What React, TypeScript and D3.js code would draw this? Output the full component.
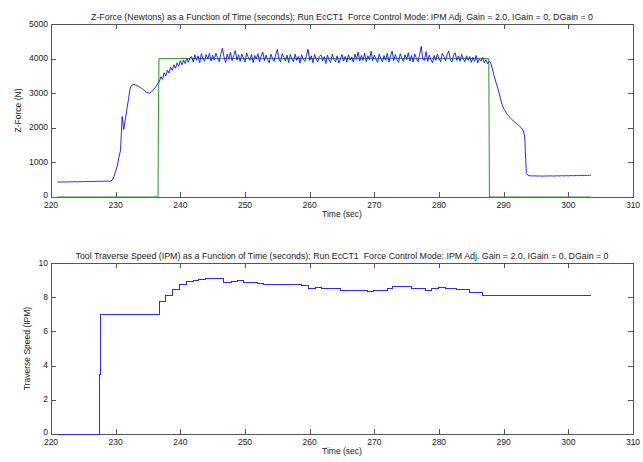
import React from "react";
import * as d3 from "d3";

// ---------- DATA ----------
const xTicks = [220, 230, 240, 250, 260, 270, 280, 290, 300, 310];
const forceTicks = [0, 1000, 2000, 3000, 4000, 5000];
const speedTicks = [0, 2, 4, 6, 8, 10];

const topTitle =
  "Z-Force (Newtons) as a Function of Time (seconds); Run EcCT1  Force Control Mode: IPM Adj. Gain = 2.0, IGain = 0, DGain = 0";
const bottomTitle =
  "Tool Traverse Speed (IPM) as a Function of Time (seconds); Run EcCT1  Force Control Mode: IPM Adj. Gain = 2.0, IGain = 0, DGain = 0";

// measured Z-force, sampled every 0.25 s starting at 221 s
const forceStart = 221;
const forceStep = 0.25;
const forceValues = [
  // 221.00 - 229.25
  430, 435, 428, 440, 432, 436, 438, 434, 442, 437,
  440, 445, 438, 444, 440, 446, 442, 448, 444, 450,
  446, 452, 448, 450, 455, 450, 452, 456, 452, 458,
  455, 460, 456, 462,
  // 229.50 - 236.50
  490, 600, 740, 900, 1150, 1350, 2330, 1950, 2250, 2550,
  2850, 3150, 3230, 3250, 3240, 3220, 3200, 3170, 3140, 3110,
  3070, 3030, 3010, 3000, 3030, 3080, 3130, 3200, 3280,
  // 236.75 - 241.50
  3330, 3480, 3400, 3590, 3500, 3670, 3580, 3750, 3660, 3820,
  3720, 3880, 3780, 3940, 3820, 3960, 3860, 4010, 3890, 4020,
  // 241.75 - 287.75
  4060, 3900, 4110, 3950, 4080, 3880, 4140, 3990, 3920, 4120,
  3990, 4150, 3930, 4100, 3960, 4160, 4030, 3910, 4120, 4300,
  4050, 3890, 4130, 3980, 4180, 3940, 4090, 4230, 3960, 4110,
  3920, 4130, 4020, 3900, 4160, 4040, 3950, 4120, 3890, 4090,
  3990, 4140, 3910, 4070, 4190, 3940, 4100, 3970, 3880, 4130,
  4010, 3920, 4110, 4260, 3990, 3900, 4140, 4040, 3930, 4100,
  3890, 4120, 3990, 3910, 4130, 3950, 4060, 3870, 4110, 3980,
  3920, 4090, 4270, 3950, 4080, 3880, 4120, 3990, 3900, 4060,
  4110, 3930, 4060, 3860, 4100, 3960, 3890, 4130, 3980, 3910,
  4080, 3870, 3990, 4120, 3930, 4060, 3900, 4110, 3960, 4050,
  3900, 4130, 3980, 4190, 3930, 4090, 3950, 4160, 3910, 4080,
  3970, 4210, 3940, 4100, 3990, 3890, 4130, 4000, 3910, 4090,
  3950, 4150, 3900, 4080, 4220, 3940, 4120, 3980, 3890, 4140,
  4020, 3920, 4110, 3970, 4170, 3930, 4090, 3900, 4130, 4010,
  3910, 4120, 4350, 3980, 3950, 4200, 3920, 4100, 3970, 3880,
  4090, 3950, 4130, 4000, 3910, 4150, 4060, 3940, 4110, 4220,
  3980, 3900, 4100, 4170, 3950, 4080, 3920, 4120, 3990, 3910,
  4080, 3950, 4060, 3890, 4040, 3920, 4090, 3880, 3990, 3930,
  4030, 3880, 3970, 3850, 3920,
  // 288.00 - 293.25
  3880, 3700, 3520, 3350, 3200, 3030, 2850, 2680, 2560, 2480,
  2400, 2350, 2290, 2240, 2200, 2160, 2120, 2080, 2040, 2000,
  1930, 1760,
  // 293.50 - 303.50
  680, 630, 615, 611, 606, 612, 608, 604, 610, 606,
  602, 608, 604, 610, 606, 612, 608, 604, 610, 614,
  608, 612, 616, 610, 614, 618, 612, 616, 620, 614,
  618, 622, 616, 620, 624, 618, 622, 626, 620, 630,
  625,
];

// commanded force (step)
const cmdTimes = [221, 236.55, 236.6, 236.7, 287.7, 287.75, 287.8, 303.5];
const cmdValues = [0, 0, 2000, 4000, 4000, 2000, 0, 0];

// traverse speed (step changes)
const speedTimes = [
  221, 227.4, 227.5, 236.75, 237.7, 238.75, 239.8, 240.8, 241.9, 242.8,
  243.8, 245.1, 246.6, 247.8, 248.8, 249.7, 251.8, 252.8, 258.7, 259.8,
  260.8, 261.8, 264.7, 268.8, 269.8, 271.9, 272.8, 275.7, 277.8, 278.8,
  279.9, 280.9, 282.7, 284.6, 286.7, 303.3,
];
const speedValues = [
  0, 3.5, 7.0, 7.8, 8.15, 8.5, 8.8, 8.97, 9.0, 9.08,
  9.12, 9.15, 8.87, 8.93, 8.98, 8.88, 8.83, 8.77, 8.72, 8.52,
  8.6, 8.55, 8.45, 8.35, 8.42, 8.52, 8.68, 8.55, 8.45, 8.55,
  8.6, 8.55, 8.48, 8.28, 8.12, 8.12,
];

// ---------- LAYOUT ----------
const W = 643;
const H = 462;
const X0 = 51;
const X1 = 633;
const TOP = { y0: 24, y1: 197 };
const BOT = { y0: 263, y1: 434 };
const FONT = "'Liberation Sans', Arial, Helvetica, sans-serif";
const NARROW = "'Liberation Sans Narrow', 'Liberation Sans', Arial, sans-serif";
const AXIS = "#555555";
const TXT = "#1a1a1a";
const TICK = 5;

const xScale = d3.scaleLinear().domain([220, 310]).range([X0, X1]);

type Pt = [number, number];

function Axes({
  y0,
  y1,
  yScale,
  yTicks,
  title,
  titleLen,
  ylabel,
  ylabelX,
}: {
  y0: number;
  y1: number;
  yScale: d3.ScaleLinear<number, number>;
  yTicks: number[];
  title: string;
  titleLen: number;
  ylabel: string;
  ylabelX: number;
}) {
  return (
    <g>
      <rect
        x={X0 + 0.5}
        y={y0 + 0.5}
        width={X1 - X0}
        height={y1 - y0}
        fill="none"
        stroke={AXIS}
        strokeWidth={1}
        shapeRendering="crispEdges"
      />
      {xTicks.map((t) => {
        const x = Math.round(xScale(t)) + 0.5;
        return (
          <g key={"x" + t}>
            <line x1={x} x2={x} y1={y1} y2={y1 - TICK} stroke={AXIS} shapeRendering="crispEdges" />
            <line x1={x} x2={x} y1={y0} y2={y0 + TICK} stroke={AXIS} shapeRendering="crispEdges" />
            <text
              x={xScale(t)}
              y={y1 + 10.5}
              fontSize={8.5}
              fontFamily={NARROW}
              fill={TXT}
              textAnchor="middle"
            >
              {t}
            </text>
          </g>
        );
      })}
      {yTicks.map((t, i) => {
        const y = Math.round(yScale(t)) + 0.5;
        return (
          <g key={"y" + t}>
            <line x1={X0} x2={X0 + TICK} y1={y} y2={y} stroke={AXIS} shapeRendering="crispEdges" />
            <line x1={X1} x2={X1 - TICK} y1={y} y2={y} stroke={AXIS} shapeRendering="crispEdges" />
            <text
              x={X0 - 3}
              y={yScale(t) + (i === 0 ? 1 : 2.5)}
              fontSize={8.5}
              fontFamily={NARROW}
              fill={TXT}
              textAnchor="end"
            >
              {t}
            </text>
          </g>
        );
      })}
      <text
        x={(X0 + X1) / 2 - titleLen / 2}
        y={y0 - 4}
        fontSize={9}
        fontFamily={FONT}
        fill={TXT}
        textLength={titleLen}
        lengthAdjust="spacingAndGlyphs"
        style={{ whiteSpace: "pre" }}
      >
        {title}
      </text>
      <text
        x={(X0 + X1) / 2}
        y={y1 + 20}
        fontSize={8.5}
        fontFamily={FONT}
        fill={TXT}
        textAnchor="middle"
      >
        Time (sec)
      </text>
      <text
        transform={`translate(${ylabelX},${(y0 + y1) / 2}) rotate(-90)`}
        fontSize={8.5}
        fontFamily={FONT}
        fill={TXT}
        textAnchor="middle"
      >
        {ylabel}
      </text>
    </g>
  );
}

export default function App() {
  const yForce = d3.scaleLinear().domain([0, 5000]).range([TOP.y1, TOP.y0]);
  const ySpeed = d3.scaleLinear().domain([0, 10]).range([BOT.y1, BOT.y0]);

  const forcePts: Pt[] = forceValues.map((v, i) => [forceStart + i * forceStep, v]);
  const cmdPts: Pt[] = cmdTimes.map((t, i) => [t, cmdValues[i]]);
  const speedPts: Pt[] = speedTimes.map((t, i) => [t, speedValues[i]]);

  const forceLine = d3
    .line<Pt>()
    .x((d) => xScale(d[0]))
    .y((d) => yForce(d[1]));
  const speedLine = d3
    .line<Pt>()
    .x((d) => Math.round(xScale(d[0])) + 0.5)
    .y((d) => Math.round(ySpeed(d[1])) + 0.5)
    .curve(d3.curveStepAfter);

  return (
    <svg
      width={W}
      height={H}
      style={{ position: "fixed", left: 0, top: 0, background: "#fff" }}
    >
      <rect x={0} y={0} width={W} height={H} fill="#fff" />
      <Axes
        y0={TOP.y0}
        y1={TOP.y1}
        yScale={yForce}
        yTicks={forceTicks}
        title={topTitle}
        titleLen={502}
        ylabel="Z-Force (N)"
        ylabelX={21}
      />
      <path d={forceLine(cmdPts) || ""} fill="none" stroke="#2a962a" strokeWidth={1} />
      <path d={forceLine(forcePts) || ""} fill="none" stroke="#1010ff" strokeWidth={0.9} />

      <Axes
        y0={BOT.y0}
        y1={BOT.y1}
        yScale={ySpeed}
        yTicks={speedTicks}
        title={bottomTitle}
        titleLen={533}
        ylabel="Traverse Speed (IPM)"
        ylabelX={30}
      />
      <path
        d={speedLine(speedPts) || ""}
        fill="none"
        stroke="#2b2bff"
        strokeWidth={1}
        shapeRendering="crispEdges"
      />
    </svg>
  );
}
